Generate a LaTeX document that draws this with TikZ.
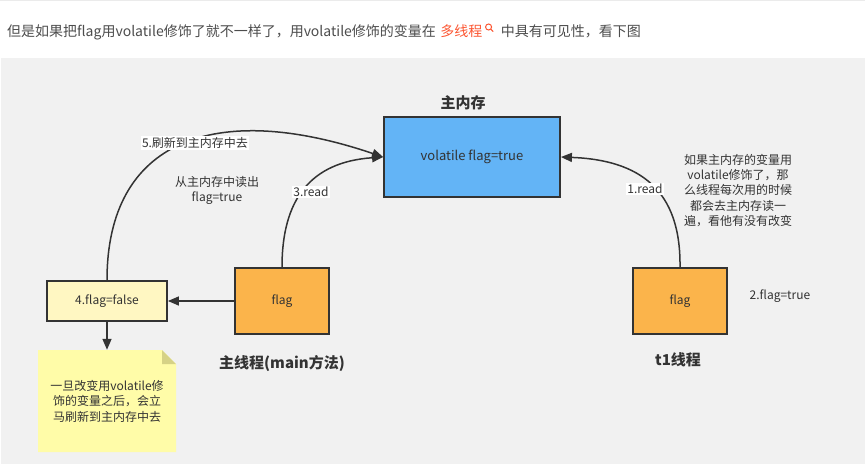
\documentclass[tikz,border=0pt]{standalone}
\usepackage{fontspec}
\setmainfont{Noto Sans CJK SC}
\usetikzlibrary{arrows.meta}
\definecolor{bgray}{HTML}{F1F1F1}
\definecolor{linec}{HTML}{333333}
\definecolor{txt}{HTML}{333333}
\definecolor{headtxt}{HTML}{4D4D4D}
\definecolor{csdnred}{HTML}{FC5531}
\definecolor{memblue}{HTML}{63B4F6}
\definecolor{flagorange}{HTML}{FBB44B}
\definecolor{lightyellow}{HTML}{FFF7C2}
\definecolor{noteyellow}{HTML}{FFFCA8}
\definecolor{notefold}{HTML}{D6D286}
\tikzset{
  box/.style={draw=linec, line width=1.8pt, inner sep=0pt, text=txt,
    font=\fontsize{12}{14}\selectfont},
  conn/.style={draw=linec, line width=1.5pt, -{Triangle[length=11pt,width=9pt]}},
  lbl/.style={fill=white, inner sep=1pt, text=txt, font=\fontsize{12}{14}\selectfont},
  plaintext/.style={text=txt, align=center, inner sep=0pt,
    font=\fontsize{12}{15.2}\selectfont},
  titletext/.style={text=txt, inner sep=0pt, font=\bfseries\fontsize{15}{18}\selectfont},
  headfont/.style={inner sep=0pt, anchor=base west, font=\fontsize{14}{17}\selectfont}
}
\begin{document}
\begin{tikzpicture}[x=1pt,y=-1pt]
\useasboundingbox (0,0) rectangle (865,468);
\fill[white] (0,0) rectangle (865,468);
\fill[black!8] (0,0) rectangle (865,1.2);
% gray canvas
\fill[bgray] (1,58) rectangle (865,464);

% header line
\node[headfont, text=headtxt] (h1) at (7,37) {但是如果把flag用volatile修饰了就不一样了，用volatile修饰的变量在};
\node[headfont, text=csdnred] (h2) at ([xshift=4pt]h1.base east) {多线程};
\node[headfont, text=headtxt] (h3) at ([xshift=18pt]h2.base east) {中具有可见性，看下图};
\draw[csdnred, line width=1pt] ([xshift=6pt,yshift=10pt]h2.base east) circle (3pt);
\draw[csdnred, line width=1pt, line cap=round] ([xshift=8.2pt,yshift=7.8pt]h2.base east) -- ([xshift=10.5pt,yshift=5.5pt]h2.base east);

% main memory
\node[titletext] (memtitle) at (463,103) {主内存};
\node[box, fill=memblue, minimum width=176pt, minimum height=80pt,
      font=\fontsize{13}{15}\selectfont] (mem) at (472,157) {volatile flag=true};

% t1 thread
\node[box, fill=flagorange, minimum width=94pt, minimum height=66pt] (t1flag) at (680,301) {flag};
\node[titletext] (t1title) at (678,360) {t1线程};
\node[plaintext] (t1val) at (780,296) {2.flag=true};
\node[plaintext] (t1note) at (738,190.5) {如果主内存的变量用\\volatile修饰了，那\\么线程每次用的时候\\都会去主内存读一\\遍，看他有没有改变};

% main thread
\node[box, fill=flagorange, minimum width=94pt, minimum height=66pt] (mainflag) at (282,301) {flag};
\node[titletext] (maintitle) at (282,363) {主线程(main方法)};
\node[box, fill=lightyellow, minimum width=120pt, minimum height=40pt] (falsebox) at (107,301) {4.flag=false};
\node[plaintext] (readout) at (217,190.5) {从主内存中读出\\flag=true};

% sticky note
\fill[noteyellow] (38,350) -- (162,350) -- (176,364) -- (176,452) -- (38,452) -- cycle;
\fill[notefold] (162,350) -- (176,364) -- (162,364) -- cycle;
\node[plaintext, minimum width=138pt, minimum height=102pt, font=\fontsize{12}{15.5}\selectfont] (note) at (107,401)
  {一旦改变用volatile修\\饰的变量之后，会立\\马刷新到主内存中去};

% connectors
\draw[conn] (t1flag.north) .. controls (681,190) and (640,160) .. (mem.east);
\draw[conn] (mainflag.north) .. controls (282,200) and (310,162) .. (mem.west);
\draw[conn] (falsebox.north) .. controls (107,140) and (215,100) .. (mem.west);
\draw[conn] (mainflag.west) -- (falsebox.east);
\draw[conn] (falsebox.south) -- (note.north);

% connector labels
\node[lbl] (l1) at (645,189) {1.read};
\node[lbl] (l3) at (311,192) {3.read};
\node[lbl] (l5) at (195,143) {5.刷新到主内存中去};
\end{tikzpicture}
\end{document}
